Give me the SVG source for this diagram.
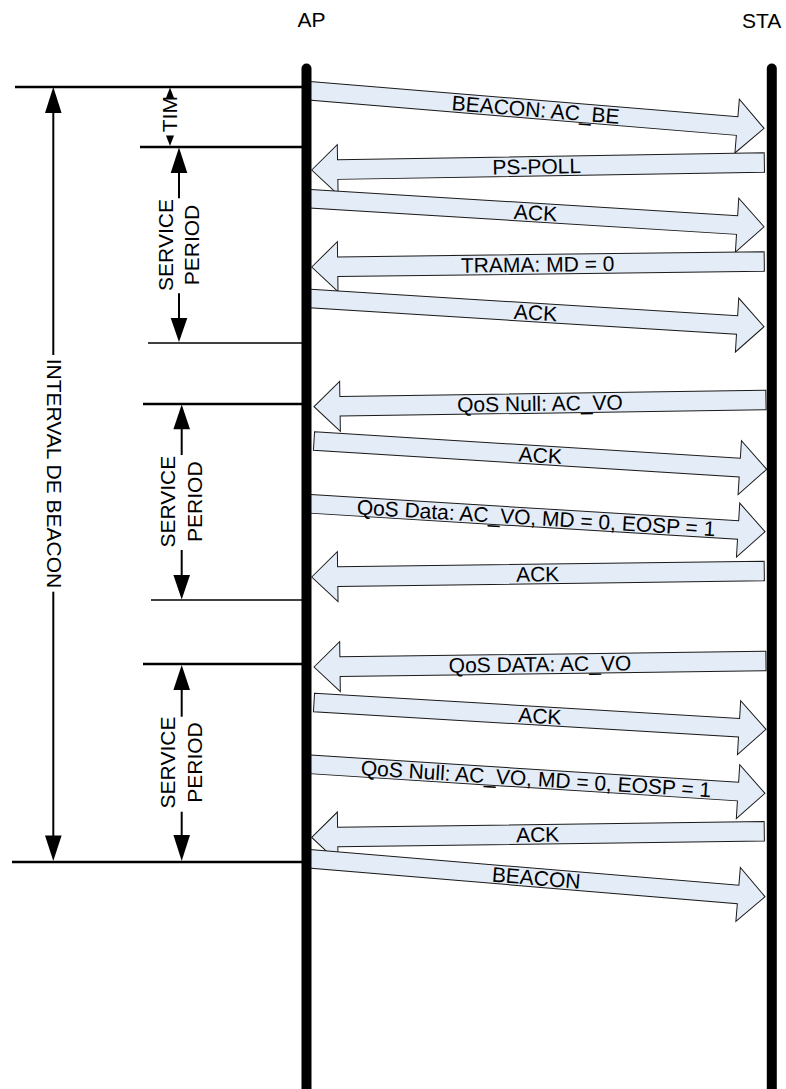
<svg xmlns="http://www.w3.org/2000/svg" width="786" height="1089" viewBox="0 0 786 1089">
<style>
.bg{fill:#fff}
.msg polygon{fill:#E4ECF7;stroke:#1a1a1a;stroke-width:1;stroke-linejoin:miter}
.t{font-family:"Liberation Sans",Arial,Helvetica,sans-serif;font-size:21px;fill:#000}
.c{text-anchor:middle}
.life{stroke:#000;stroke-width:10;stroke-linecap:round;fill:none}
.hl{stroke:#000;stroke-width:2.5}
.hlt{stroke:#000;stroke-width:1.5}
.dim{stroke:#000;stroke-width:2;fill:none}
.head{fill:#000;stroke:none}
</style>
<defs>
<polygon id="rh" points="0,0 -26,-8.3 -26,8.3"/>
</defs>
<rect class="bg" x="0" y="0" width="786" height="1089"/>

<g id="timeline-marks">
<line class="hl" x1="15" y1="87" x2="306" y2="87"/>
<line class="hl" x1="140" y1="147" x2="306" y2="147"/>
<line class="hlt" x1="148" y1="343" x2="304" y2="343"/>
<line class="hl" x1="143" y1="404" x2="304" y2="404"/>
<line class="hlt" x1="151" y1="600" x2="304" y2="600"/>
<line class="hl" x1="143" y1="664" x2="304" y2="664"/>
<line class="hl" x1="12" y1="862" x2="304" y2="862"/>
</g>

<g id="dim-interval">
<line class="dim" x1="53.3" y1="110" x2="53.3" y2="355"/>
<line class="dim" x1="53.3" y1="591.7" x2="53.3" y2="838"/>
<polygon class="head" points="53.3,87 45,113 61.6,113"/>
<polygon class="head" points="53.3,861 45,835.5 61.6,835.5"/>
<text class="t c" transform="translate(46.5,473.5) rotate(90)">INTERVAL DE BEACON</text>
</g>

<g id="dim-tim">
<polygon class="head" points="170,87.5 166,98 174,98"/>
<polygon class="head" points="170,146 166,135.5 174,135.5"/>
<text class="t c" transform="translate(176.7,114.2) rotate(-90)">TIM</text>
</g>

<g id="dim-sp1">
<line class="dim" x1="179" y1="170" x2="179" y2="198.3"/>
<line class="dim" x1="179" y1="293.3" x2="179" y2="320"/>
<polygon class="head" points="179,147.5 170.7,173 187.3,173"/>
<polygon class="head" points="179,342 170.7,318 187.3,318"/>
<text class="t c" transform="translate(173.3,245) rotate(-90)">SERVICE</text>
<text class="t c" transform="translate(199,245) rotate(-90)">PERIOD</text>
</g>

<g id="dim-sp2">
<line class="dim" x1="181.7" y1="427" x2="181.7" y2="455"/>
<line class="dim" x1="181.7" y1="550" x2="181.7" y2="577"/>
<polygon class="head" points="181.7,404.5 173.4,429.3 190,429.3"/>
<polygon class="head" points="181.7,599.5 173.4,575 190,575"/>
<text class="t c" transform="translate(175,501.7) rotate(-90)">SERVICE</text>
<text class="t c" transform="translate(201.7,501.7) rotate(-90)">PERIOD</text>
</g>

<g id="dim-sp3">
<line class="dim" x1="181.7" y1="688" x2="181.7" y2="716.7"/>
<line class="dim" x1="181.7" y1="811.7" x2="181.7" y2="837"/>
<polygon class="head" points="181.7,665 173.4,690 190,690"/>
<polygon class="head" points="181.7,861 173.4,835 190,835"/>
<text class="t c" transform="translate(175,762.5) rotate(-90)">SERVICE</text>
<text class="t c" transform="translate(201.7,762.5) rotate(-90)">PERIOD</text>
</g>

<g id="connectors" class="msg">
<g id="m1" transform="translate(306,90.5) rotate(4.718)">
<polygon points="0,-9.3 432.6,-9.3 432.6,-27 459.6,0 432.6,27 432.6,9.3 0,9.3"/>
<text class="t c" x="230.5" y="7.5">BEACON: AC_BE</text>
</g>
<g id="m2" transform="translate(311.7,170) rotate(-0.949)">
<polygon points="0,0 26,-25 26,-9.8 452.7,-9.8 452.7,9.8 26,9.8 26,25"/>
<text class="t c" x="225" y="7.5">PS-POLL</text>
</g>
<g id="m3" transform="translate(306,198.45) rotate(3.536)">
<polygon points="0,-9.3 431.9,-9.3 431.9,-27 458.9,0 431.9,27 431.9,9.3 0,9.3"/>
<text class="t c" x="230" y="7.5">ACK</text>
</g>
<g id="m4" transform="translate(311.7,267) rotate(-0.696)">
<polygon points="0,0 26,-25 26,-9.8 452.6,-9.8 452.6,9.8 26,9.8 26,25"/>
<text class="t c" x="226" y="7.5">TRAMA: MD = 0</text>
</g>
<g id="m5" transform="translate(306,298.3) rotate(3.548)">
<polygon points="0,-9.3 431.9,-9.3 431.9,-27 458.9,0 431.9,27 431.9,9.3 0,9.3"/>
<text class="t c" x="230" y="7.5">ACK</text>
</g>
<g id="m6" transform="translate(314,406.7) rotate(-0.849)">
<polygon points="0,0 26,-25 26,-9.8 452,-9.8 452,9.8 26,9.8 26,25"/>
<text class="t c" x="226" y="7.5">QoS Null: AC_VO</text>
</g>
<g id="m7" transform="translate(314,441) rotate(3.577)">
<polygon points="0,-9.3 426.6,-9.3 426.6,-27 453.6,0 426.6,27 426.6,9.3 0,9.3"/>
<text class="t c" x="226.8" y="7.5">ACK</text>
</g>
<g id="m8" transform="translate(306,503.6) rotate(3.503)">
<polygon points="0,-9.3 432.9,-9.3 432.9,-27 459.9,0 432.9,27 432.9,9.3 0,9.3"/>
<text class="t c" x="230.5" y="7.5">QoS Data: AC_VO, MD = 0, EOSP = 1</text>
</g>
<g id="m9" transform="translate(311.7,577) rotate(-0.76)">
<polygon points="0,0 26,-25 26,-9.8 452.6,-9.8 452.6,9.8 26,9.8 26,25"/>
<text class="t c" x="226" y="7.5">ACK</text>
</g>
<g id="m10" transform="translate(314,667) rotate(-0.76)">
<polygon points="0,0 26,-25 26,-9.8 452,-9.8 452,9.8 26,9.8 26,25"/>
<text class="t c" x="226" y="7.5">QoS DATA: AC_VO</text>
</g>
<g id="m11" transform="translate(314,702.5) rotate(3.393)">
<polygon points="0,-9.3 425.8,-9.3 425.8,-27 452.8,0 425.8,27 425.8,9.3 0,9.3"/>
<text class="t c" x="226.4" y="7.5">ACK</text>
</g>
<g id="m12" transform="translate(306,764.1) rotate(3.64)">
<polygon points="0,-9.3 432.9,-9.3 432.9,-27 459.9,0 432.9,27 432.9,9.3 0,9.3"/>
<text class="t c" x="230.5" y="7.5">QoS Null: AC_VO, MD = 0, EOSP = 1</text>
</g>
<g id="m13" transform="translate(311.7,837.4) rotate(-0.772)">
<polygon points="0,0 26,-25 26,-9.8 452.6,-9.8 452.6,9.8 26,9.8 26,25"/>
<text class="t c" x="226" y="7.5">ACK</text>
</g>
<g id="m14" transform="translate(306,858.5) rotate(4.757)">
<polygon points="0,-9.3 433.6,-9.3 433.6,-27 460.6,0 433.6,27 433.6,9.3 0,9.3"/>
<text class="t c" x="231" y="7.5">BEACON</text>
</g>
</g>

<g id="node-ap">
<line class="life" x1="306.5" y1="68.5" x2="306.5" y2="1100"/>
<text class="t c" x="311.5" y="27">AP</text>
</g>
<g id="node-sta">
<line class="life" x1="771.8" y1="68.5" x2="771.8" y2="1100"/>
<text class="t c" x="761.7" y="28">STA</text>
</g>
</svg>
